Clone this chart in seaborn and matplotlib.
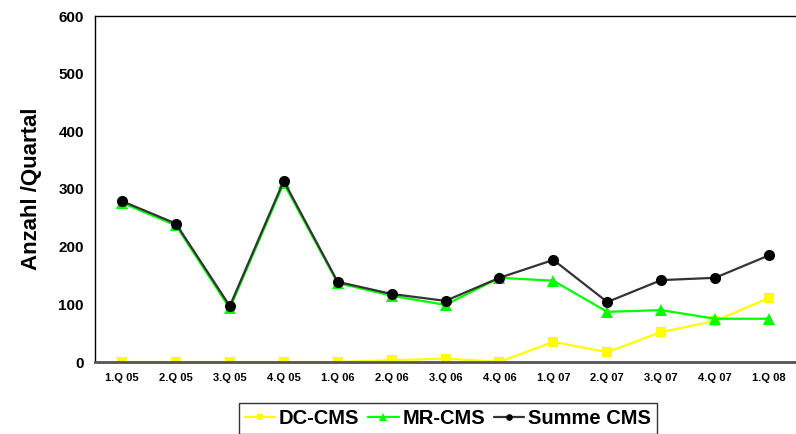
import matplotlib
matplotlib.use("Agg")
import matplotlib.pyplot as plt
import seaborn as sns
import pandas as pd

quartale = ['1.Q 05', '2.Q 05', '3.Q 05', '4.Q 05', '1.Q 06', '2.Q 06', '3.Q 06',
            '4.Q 06', '1.Q 07', '2.Q 07', '3.Q 07', '4.Q 07', '1.Q 08']
dc_cms = [0, 0, 0, 0, 0, 3, 6, 0, 35, 17, 52, 71, 111]
mr_cms = [276, 237, 93, 310, 137, 115, 99, 146, 141, 87, 90, 75, 75]
summe_cms = [279, 240, 97, 314, 139, 118, 106, 146, 177, 104, 142, 146, 185]

sns.set_theme(style="white")
plt.rcParams['font.family'] = ['Liberation Sans', 'DejaVu Sans']
plt.rcParams['font.weight'] = 'bold'
plt.rcParams['text.color'] = 'black'
plt.rcParams['axes.labelcolor'] = 'black'
plt.rcParams['xtick.color'] = 'black'
plt.rcParams['ytick.color'] = 'black'

df = pd.DataFrame({'pos': range(len(quartale)), 'DC-CMS': dc_cms,
                   'MR-CMS': mr_cms, 'Summe CMS': summe_cms})

fig = plt.figure(figsize=(7.96, 4.34), dpi=100)
ax = fig.add_axes([95 / 796, 72 / 434, 701 / 796, 346 / 434])

# Reihenfolge: gelb, gruen, schwarz (schwarz oben)
sns.lineplot(data=df, x='pos', y='DC-CMS', ax=ax, color='#ffff00', marker='s',
             markersize=7.5, markeredgewidth=0, linewidth=1.6, label='DC-CMS')
sns.lineplot(data=df, x='pos', y='MR-CMS', ax=ax, color='#00ff00', marker='^',
             markersize=8.5, markeredgewidth=0, linewidth=1.6, label='MR-CMS')
sns.lineplot(data=df, x='pos', y='Summe CMS', ax=ax, color='#333333', marker='o',
             markerfacecolor='black', markersize=8, markeredgewidth=0,
             linewidth=1.6, label='Summe CMS')

ax.set_xlim(-0.5, 12.41)
ax.set_ylim(0, 600)
ax.set_yticks(range(0, 601, 100))
ax.set_xticks(range(len(quartale)))
ax.set_xticklabels(quartale, fontsize=8, fontweight='bold')
ax.set_xticks([i + 0.5 for i in range(-1, 13)], minor=True)
ax.tick_params(axis='x', which='major', length=0, pad=8)
ax.tick_params(axis='x', which='minor', length=5, width=1, color='black', direction='out')
ax.tick_params(axis='y', length=5, width=1, color='black', direction='out',
               labelsize=11, pad=3)
for lab in ax.get_yticklabels():
    lab.set_fontweight('bold')
ax.set_xlabel('')
ax.set_ylabel('Anzahl /Quartal', fontsize=16, fontweight='bold', labelpad=12)

for side in ['left', 'top']:
    ax.spines[side].set_color('black')
    ax.spines[side].set_linewidth(1)
ax.spines['bottom'].set_color('#555555')
ax.spines['bottom'].set_linewidth(2)
ax.spines['right'].set_visible(False)

leg = ax.legend(loc='upper center', bbox_to_anchor=(448 / 796, (434 - 403) / 434),
                bbox_transform=fig.transFigure, ncol=3, frameon=True,
                fancybox=False, edgecolor='black',
                prop={'weight': 'bold', 'size': 14.5}, handlelength=1.5,
                handletextpad=0.2, columnspacing=0.45, borderpad=0.3,
                borderaxespad=0, markerscale=0.6)
leg.get_frame().set_linewidth(1)

fig.savefig('out.png', dpi=100)
